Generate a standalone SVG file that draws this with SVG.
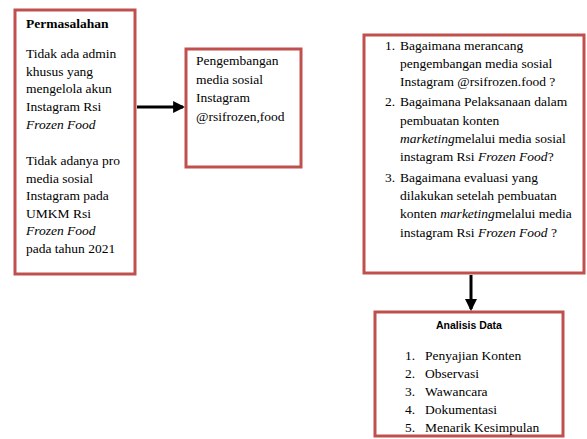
<svg xmlns="http://www.w3.org/2000/svg" width="587" height="439" viewBox="0 0 587 439">
<style>
.box{fill:#fff;stroke:#C0504D;stroke-width:3}
.t{font-family:"Liberation Serif","Times New Roman",serif;font-size:13.5px;fill:#000}
.b{font-weight:bold}
.i{font-style:italic}
.h{font-family:"Liberation Sans",Arial,sans-serif;font-size:10.5px;font-weight:bold;fill:#000}
.c{stroke:#000;stroke-width:3;fill:none}
</style>
<defs>
<marker id="ah" markerWidth="4" markerHeight="4" refX="3.3" refY="2" orient="auto" markerUnits="strokeWidth">
<path d="M0,0 L4,2 L0,4 Z" fill="#000"/>
</marker>
</defs>
<rect width="587" height="439" fill="#fff"/>
<g id="connectors">
<line class="c" x1="137" y1="107" x2="183" y2="107" marker-end="url(#ah)"/>
<line class="c" x1="471" y1="275" x2="471" y2="309" marker-end="url(#ah)"/>
</g>
<g id="permasalahan">
<rect class="box" x="15" y="10" width="120" height="264"/>
<text class="t b" x="26" y="28">Permasalahan</text>
<text class="t" x="26" y="58">Tidak ada admin</text>
<text class="t" x="26" y="76">khusus yang</text>
<text class="t" x="26" y="93">mengelola akun</text>
<text class="t" x="26" y="111">Instagram Rsi</text>
<text class="t i" x="26" y="129">Frozen Food</text>
<text class="t" x="26" y="165">Tidak adanya pro</text>
<text class="t" x="26" y="183">media sosial</text>
<text class="t" x="26" y="200">Instagram pada</text>
<text class="t" x="26" y="218">UMKM Rsi</text>
<text class="t i" x="26" y="235">Frozen Food</text>
<text class="t" x="26" y="253">pada tahun 2021</text>
</g>
<g id="pengembangan">
<rect class="box" x="186" y="49" width="115" height="118"/>
<text class="t" x="196" y="65">Pengembangan</text>
<text class="t" x="196" y="84">media sosial</text>
<text class="t" x="196" y="102">Instagram</text>
<text class="t" x="196" y="121">@rsifrozen,food</text>
</g>
<g id="rumusan">
<rect class="box" x="364" y="35" width="220" height="238"/>
<text class="t" x="385" y="50">1.</text>
<text class="t" x="400" y="50">Bagaimana merancang</text>
<text class="t" x="400" y="68">pengembangan media sosial</text>
<text class="t" x="400" y="86">Instagram @rsifrozen.food ?</text>
<text class="t" x="385" y="106">2.</text>
<text class="t" x="400" y="106">Bagaimana Pelaksanaan dalam</text>
<text class="t" x="400" y="125">pembuatan konten</text>
<text class="t" x="400" y="143"><tspan class="i">marketing</tspan>melalui media sosial</text>
<text class="t" x="400" y="161">instagram Rsi <tspan class="i">Frozen Food</tspan>?</text>
<text class="t" x="385" y="182">3.</text>
<text class="t" x="400" y="182">Bagaimana evaluasi yang</text>
<text class="t" x="400" y="200">dilakukan setelah pembuatan</text>
<text class="t" x="400" y="218">konten <tspan class="i">marketing</tspan>melalui media</text>
<text class="t" x="400" y="237">instagram Rsi <tspan class="i">Frozen Food</tspan> ?</text>
</g>
<g id="analisis">
<rect class="box" x="375" y="312" width="188" height="124"/>
<text class="h" x="469" y="329" text-anchor="middle">Analisis Data</text>
<text class="t" x="405" y="360">1.</text>
<text class="t" x="425" y="360">Penyajian Konten</text>
<text class="t" x="405" y="378">2.</text>
<text class="t" x="425" y="378">Observasi</text>
<text class="t" x="405" y="396">3.</text>
<text class="t" x="425" y="396">Wawancara</text>
<text class="t" x="405" y="414">4.</text>
<text class="t" x="425" y="414">Dokumentasi</text>
<text class="t" x="405" y="432">5.</text>
<text class="t" x="425" y="432">Menarik Kesimpulan</text>
</g>
</svg>
